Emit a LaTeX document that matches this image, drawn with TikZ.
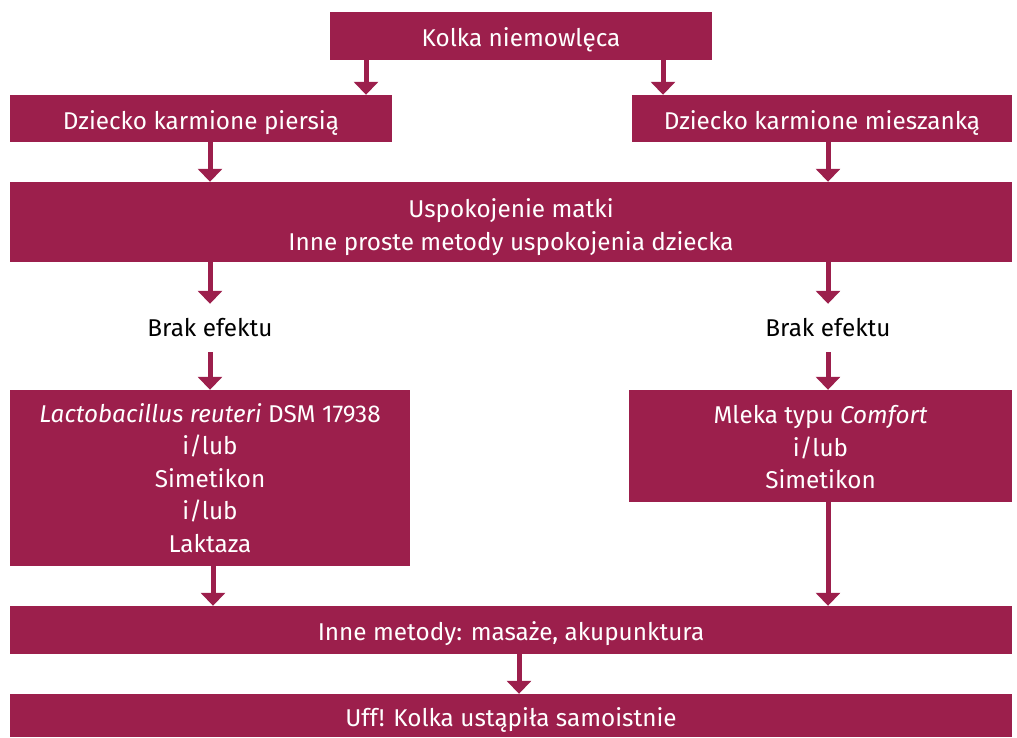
\documentclass[tikz,border=0pt]{standalone}
\usepackage{fontspec}
\setmainfont{Fira Sans}
\usetikzlibrary{arrows.meta, positioning}
\definecolor{Wine}{HTML}{9C1F4C}

\begin{document}
\begin{tikzpicture}[x=1pt, y=-1pt,
  box/.style={fill=Wine, text=white, inner sep=0pt, align=center, font=\fontsize{24.3}{32.5}\selectfont},
  oneline/.style={box, text height=21pt, text depth=0pt},
  plain/.style={inner sep=0pt, minimum height=48pt, font=\fontsize{24.3}{28}\selectfont},
  arrow/.style={-{Triangle[width=24pt, length=13pt]}, line width=5pt, color=Wine}
]
\useasboundingbox (0,0) rectangle (1017,737);
\node[oneline, minimum width=382pt, minimum height=48pt] (kolka) at (521,36) {Kolka niemowlęca};
\node[oneline, minimum width=382pt, minimum height=47pt] (piers) at (201,118.5) {Dziecko karmione piersią};
\node[oneline, minimum width=380pt, minimum height=47pt] (miesz) at (822,118.5) {Dziecko karmione mieszanką};
\node[box, text height=62pt, minimum width=1002pt, minimum height=80pt] (usp) at (511,222) {Uspokojenie matki\\Inne proste metody uspokojenia dziecka};
\node[plain] (brak1) at (210,328) {Brak efektu};
\node[plain] (brak2) at (828,328) {Brak efektu};
\node[box, minimum width=400pt, minimum height=176pt] (lacto) at (210,478) {\textit{Lactobacillus reuteri} DSM 17938\\i/lub\\Simetikon\\i/lub\\Laktaza};
\node[box, text height=86pt, minimum width=383pt, minimum height=112pt] (mleka) at (820.5,446) {Mleka typu \textit{Comfort}\\i/lub\\Simetikon};
\node[oneline, minimum width=1002pt, minimum height=48pt] (inne) at (511,630) {Inne metody: masaże, akupunktura};
\node[oneline, minimum width=1002pt, minimum height=43pt] (uff) at (511,715.5) {Uff! Kolka ustąpiła samoistnie};

\draw[arrow] ([xshift=-155pt]kolka.south) -- ([xshift=-155pt]kolka.south |- piers.north);
\draw[arrow] ([xshift=142pt]kolka.south) -- ([xshift=142pt]kolka.south |- miesz.north);
\draw[arrow] (piers.south -| brak1) -- (usp.north -| brak1);
\draw[arrow] (miesz.south -| brak2) -- (usp.north -| brak2);
\draw[arrow] (usp.south -| brak1) -- (brak1.north);
\draw[arrow] (usp.south -| brak2) -- (brak2.north);
\draw[arrow] (brak1.south) -- (lacto.north -| brak1);
\draw[arrow] (brak2.south) -- (mleka.north -| brak2);
\draw[arrow] ([xshift=3pt]lacto.south) -- ([xshift=3pt]lacto.south |- inne.north);
\draw[arrow] (mleka.south -| brak2) -- (inne.north -| brak2);
\draw[arrow] ([xshift=8pt]inne.south) -- ([xshift=8pt]inne.south |- uff.north);
\end{tikzpicture}
\end{document}
